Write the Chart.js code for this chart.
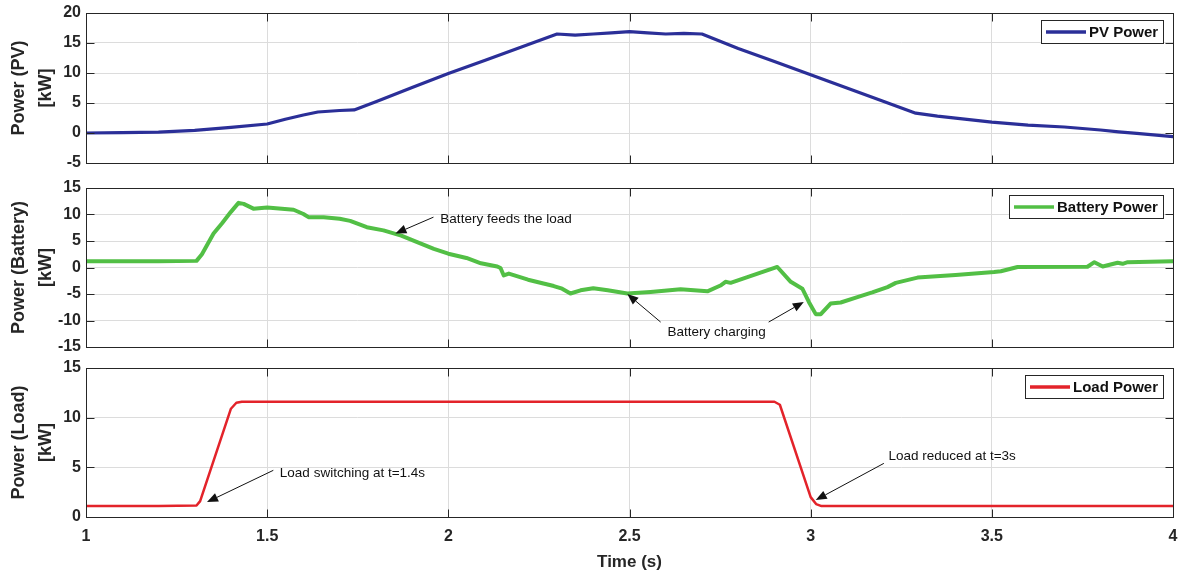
<!DOCTYPE html>
<html>
<head>
<meta charset="utf-8">
<script src="https://cdn.jsdelivr.net/npm/chart.js@4.4.1/dist/chart.umd.min.js"></script>
<style>
html, body { margin: 0; padding: 0; background: #fff; }
#wrap { position: relative; width: 1181px; height: 575px; }
.panel { position: absolute; left: 0; width: 1181px; }
</style>
</head>
<body>
<div id="wrap">
  <div class="panel" style="top:0;height:176px"><canvas id="pvChart"></canvas></div>
  <div class="panel" style="top:176px;height:180px"><canvas id="batChart"></canvas></div>
  <div class="panel" style="top:356px;height:219px"><canvas id="loadChart"></canvas></div>
</div>
<script>
// tick labels
const xTicks = [1, 1.5, 2, 2.5, 3, 3.5, 4];
const pvTicks = [-5, 0, 5, 10, 15, 20];
const batTicks = [-15, -10, -5, 0, 5, 10, 15];
const loadTicks = [0, 5, 10, 15];

// PV power (kW) vs time (s)
const pvTime  = [1.0, 1.1, 1.2, 1.3, 1.4, 1.5, 1.55, 1.6, 1.64, 1.70, 1.74, 1.8, 1.9, 2.0, 2.1, 2.2, 2.3, 2.35, 2.4, 2.45, 2.5, 2.55, 2.6, 2.65, 2.7, 2.75, 2.8, 2.9, 3.0, 3.1, 3.2, 3.29, 3.35, 3.5, 3.6, 3.7, 3.8, 3.85, 3.9, 4.0];
const pvPower = [0.0, 0.05, 0.15, 0.45, 0.95, 1.5, 2.3, 3.0, 3.5, 3.75, 3.85, 5.2, 7.6, 9.9, 12.1, 14.3, 16.5, 16.3, 16.5, 16.7, 16.9, 16.7, 16.5, 16.6, 16.5, 15.3, 14.1, 11.9, 9.7, 7.5, 5.3, 3.3, 2.8, 1.8, 1.3, 1.0, 0.5, 0.2, -0.05, -0.6];

// battery power
const batTime  = [1.0, 1.2, 1.305, 1.32, 1.352, 1.375, 1.40, 1.421, 1.435, 1.462, 1.50, 1.573, 1.60, 1.614, 1.656, 1.70, 1.729, 1.775, 1.821, 1.87, 1.914, 1.96, 2.0, 2.05, 2.09, 2.135, 2.144, 2.153, 2.167, 2.22, 2.291, 2.314, 2.337, 2.365, 2.40, 2.44, 2.494, 2.558, 2.641, 2.715, 2.751, 2.765, 2.779, 2.908, 2.945, 2.977, 2.995, 3.014, 3.028, 3.055, 3.083, 3.129, 3.17, 3.212, 3.235, 3.295, 3.40, 3.506, 3.525, 3.571, 3.764, 3.783, 3.806, 3.847, 3.861, 3.875, 4.0];
const batPower = [1.2, 1.2, 1.25, 2.5, 6.4, 8.3, 10.5, 12.2, 12.0, 11.1, 11.3, 10.9, 10.1, 9.5, 9.5, 9.2, 8.8, 7.6, 7.0, 6.0, 4.8, 3.5, 2.6, 1.8, 0.8, 0.2, -0.1, -1.5, -1.15, -2.3, -3.5, -4.0, -4.9, -4.3, -3.9, -4.3, -4.9, -4.6, -4.1, -4.5, -3.4, -2.7, -2.9, 0.1, -2.7, -4.0, -6.5, -8.8, -8.8, -6.8, -6.6, -5.6, -4.7, -3.7, -2.9, -1.9, -1.4, -0.85, -0.7, 0.1, 0.15, 1.0, 0.2, 0.9, 0.7, 1.0, 1.17];

// load power
const loadTime  = [1.0, 1.2, 1.305, 1.315, 1.40, 1.415, 1.43, 2.0, 2.5, 2.9, 2.915, 3.0, 3.015, 3.03, 3.5, 4.0];
const loadPower = [1.1, 1.1, 1.15, 1.6, 10.9, 11.5, 11.6, 11.6, 11.6, 11.6, 11.3, 2.0, 1.3, 1.1, 1.1, 1.1];

const FONT = "'Liberation Sans', Arial, sans-serif";
const INK = '#262626';

function toPoints(t, v) {
  return t.map((x, i) => ({x: x, y: v[i]}));
}

function drawArrow(ctx, x1, y1, x2, y2) {
  const ang = Math.atan2(y2 - y1, x2 - x1);
  const len = 11, half = 4.5;
  const bx = x2 - len * Math.cos(ang), by = y2 - len * Math.sin(ang);
  ctx.beginPath();
  ctx.moveTo(x1, y1);
  ctx.lineTo(bx, by);
  ctx.stroke();
  ctx.beginPath();
  ctx.moveTo(x2, y2);
  ctx.lineTo(bx + half * Math.sin(ang), by - half * Math.cos(ang));
  ctx.lineTo(bx - half * Math.sin(ang), by + half * Math.cos(ang));
  ctx.closePath();
  ctx.fill();
}

// box, inward ticks, legend and text notes (MATLAB look)
const panelBox = {
  id: 'panelBox',
  afterDraw(chart, args, opts) {
    const ctx = chart.ctx, a = chart.chartArea;
    const xs = chart.scales.x, ys = chart.scales.y;
    ctx.save();

    ctx.strokeStyle = '#111';
    ctx.fillStyle = '#111';
    ctx.lineWidth = 1;
    ctx.font = '13.5px ' + FONT;
    ctx.textBaseline = 'middle';
    ctx.textAlign = 'left';
    (opts.notes || []).forEach(n => {
      ctx.fillText(n.text, xs.getPixelForValue(n.at[0]), ys.getPixelForValue(n.at[1]));
      n.arrows.forEach(ar => {
        drawArrow(ctx, xs.getPixelForValue(ar[0]), ys.getPixelForValue(ar[1]),
                       xs.getPixelForValue(ar[2]), ys.getPixelForValue(ar[3]));
      });
    });

    const L = Math.round(a.left) + 0.5, T = Math.round(a.top) + 0.5;
    const R = Math.round(a.right) + 0.5, B = Math.round(a.bottom) + 0.5;
    ctx.strokeStyle = INK;
    ctx.strokeRect(L, T, R - L, B - T);
    ctx.beginPath();
    xTicks.slice(1, -1).forEach(v => {
      const px = Math.round(xs.getPixelForValue(v)) + 0.5;
      ctx.moveTo(px, T); ctx.lineTo(px, T + 8);
      ctx.moveTo(px, B); ctx.lineTo(px, B - 8);
    });
    opts.yTicks.slice(1, -1).forEach(v => {
      const py = Math.round(ys.getPixelForValue(v)) + 0.5;
      ctx.moveTo(L, py); ctx.lineTo(L + 8, py);
      ctx.moveTo(R, py); ctx.lineTo(R - 8, py);
    });
    ctx.stroke();

    // legend
    const ds = chart.data.datasets[0];
    ctx.font = 'bold 15px ' + FONT;
    const tw = ctx.measureText(ds.label).width;
    const w = Math.round(5 + 40 + 3 + tw + 5), h = 23;
    const lx = Math.round(a.right - 10 - w), ly = Math.round(a.top + 7);
    ctx.fillStyle = '#fff';
    ctx.fillRect(lx, ly, w, h);
    ctx.strokeStyle = INK;
    ctx.lineWidth = 1;
    ctx.strokeRect(lx + 0.5, ly + 0.5, w, h);
    ctx.strokeStyle = ds.borderColor;
    ctx.lineWidth = 3.5;
    ctx.beginPath();
    ctx.moveTo(lx + 5, ly + h / 2 + 0.5);
    ctx.lineTo(lx + 45, ly + h / 2 + 0.5);
    ctx.stroke();
    ctx.fillStyle = '#111';
    ctx.fillText(ds.label, lx + 48, ly + h / 2 + 1.5);

    ctx.restore();
  }
};

function makeChart(id, cfg) {
  const tickFont = {family: FONT, size: 16, weight: 'bold'};
  return new Chart(document.getElementById(id), {
    type: 'line',
    data: {
      datasets: [{
        label: cfg.label,
        data: toPoints(cfg.t, cfg.v),
        borderColor: cfg.color,
        borderWidth: cfg.width,
        pointRadius: 0,
        tension: 0,
        borderJoinStyle: 'round',
        borderCapStyle: 'round'
      }]
    },
    options: {
      responsive: true,
      maintainAspectRatio: false,
      animation: false,
      events: [],
      layout: {padding: {top: cfg.padTop, bottom: cfg.padBottom, left: 0, right: 8}},
      plugins: {
        legend: {display: false},
        tooltip: {enabled: false},
        panelBox: {notes: cfg.notes, yTicks: cfg.yTicks}
      },
      scales: {
        x: {
          type: 'linear', min: 1, max: 4,
          afterBuildTicks: s => { s.ticks = xTicks.map(v => ({value: v})); },
          afterFit: s => {
            s.height = cfg.showX ? 58 : 0;
            s.paddingLeft = 0;
            s.paddingRight = 0;
          },
          grid: {color: '#dcdcdc', drawTicks: false},
          border: {display: false},
          ticks: {display: cfg.showX, autoSkip: false, maxRotation: 0, padding: 10, color: INK, font: tickFont,
                  callback: v => String(v)},
          title: {display: cfg.showX, text: 'Time (s)', color: INK,
                  font: {family: FONT, size: 17, weight: 'bold'}, padding: {top: 0, bottom: 2}}
        },
        y: {
          min: cfg.yTicks[0], max: cfg.yTicks[cfg.yTicks.length - 1],
          afterBuildTicks: s => { s.ticks = cfg.yTicks.map(v => ({value: v})); },
          afterFit: s => {
            s.width = 86;
            s.paddingTop = 0;
            s.paddingBottom = 0;
          },
          grid: {color: '#dcdcdc', drawTicks: false},
          border: {display: false},
          ticks: {autoSkip: false, padding: 5, color: INK, font: tickFont},
          title: {display: true, text: cfg.yTitle, color: INK,
                  font: {family: FONT, size: 18, weight: 'bold', lineHeight: 1.5}, padding: {top: 6, bottom: 0}}
        }
      }
    },
    plugins: [panelBox]
  });
}

makeChart('pvChart', {
  label: 'PV Power', t: pvTime, v: pvPower, color: '#2b2f98', width: 3.2,
  yTicks: pvTicks, yTitle: ['Power (PV)', '[kW]'], padTop: 13, padBottom: 13, showX: false,
  notes: []
});

makeChart('batChart', {
  label: 'Battery Power', t: batTime, v: batPower, color: '#52bf45', width: 4,
  yTicks: batTicks, yTitle: ['Power (Battery)', '[kW]'], padTop: 12, padBottom: 9, showX: false,
  notes: [
    {text: 'Battery feeds the load', at: [1.978, 9.05], arrows: [[1.959, 9.5, 1.854, 6.4]]},
    {text: 'Battery charging', at: [2.605, -12.2], arrows: [[2.586, -10.3, 2.494, -5.0], [2.884, -10.3, 2.981, -6.5]]}
  ]
});

makeChart('loadChart', {
  label: 'Load Power', t: loadTime, v: loadPower, color: '#e3232a', width: 2.5,
  yTicks: loadTicks, yTitle: ['Power (Load)', '[kW]'], padTop: 12, padBottom: 0, showX: true,
  notes: [
    {text: 'Load switching at t=1.4s', at: [1.535, 4.4], arrows: [[1.517, 4.7, 1.334, 1.5]]},
    {text: 'Load reduced at t=3s', at: [3.215, 6.1], arrows: [[3.202, 5.4, 3.014, 1.7]]}
  ]
});
</script>
</body>
</html>
